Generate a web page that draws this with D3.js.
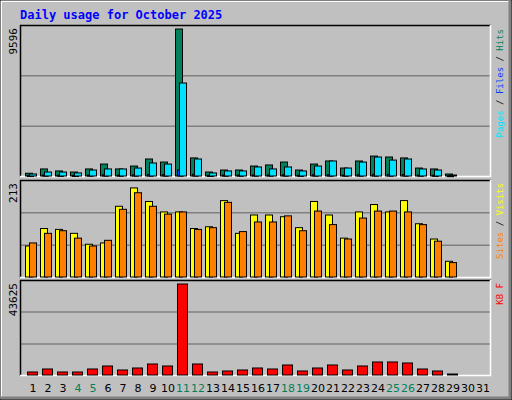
<!DOCTYPE html>
<meta charset="utf-8">
<script src="https://d3js.org/d3.v7.min.js"></script>
<style>
  body { margin: 0; }
  text { font-family: "DejaVu Sans Mono", monospace; }
</style>
<body>
<div id="chart"></div>
<script>
var days = d3.range(1, 32);
var weekends = [4, 5, 11, 12, 18, 19, 25, 26];
var hits   = [180, 460, 330, 260, 460, 780, 460, 650, 1110, 910, 9596, 1180, 260, 390, 390, 650, 720, 910, 390, 780, 980, 520, 980, 1300, 1240, 1180, 520, 460, 130, 0, 0];
var files  = [40, 60, 50, 40, 60, 80, 60, 70, 100, 90, 400, 110, 40, 60, 60, 70, 70, 80, 50, 80, 90, 60, 90, 110, 110, 100, 60, 50, 20, 0, 0];
var pages  = [130, 260, 260, 200, 390, 460, 460, 520, 850, 780, 6070, 1110, 200, 330, 330, 590, 460, 590, 330, 650, 980, 520, 910, 1240, 1040, 1110, 460, 390, 65, 0, 0];
var visits = [71, 111, 109, 100, 75, 78, 162, 204, 173, 149, 149, 111, 115, 175, 100, 142, 142, 138, 113, 173, 142, 89, 149, 166, 149, 175, 122, 87, 36, 0, 0];
var sites  = [78, 100, 106, 89, 71, 84, 155, 193, 162, 144, 149, 109, 113, 171, 104, 126, 126, 140, 106, 151, 120, 87, 135, 151, 151, 149, 120, 82, 33, 0, 0];
var kbytes = [1440, 2880, 1440, 1440, 2880, 4320, 2400, 3360, 5280, 4320, 43625, 5280, 1440, 1920, 2400, 3360, 2880, 4800, 1920, 3360, 4800, 2400, 4320, 6240, 6240, 5760, 2880, 1920, 480, 0, 0];

var W = 512, H = 400;
var svg = d3.select("#chart").append("svg")
  .attr("width", W).attr("height", H);

// outer frame
svg.append("rect").attr("width", W).attr("height", H).attr("fill", "#c0c0c0");
svg.append("path").attr("d", "M1,399V1H511").attr("stroke", "#fff").attr("stroke-width", 2).attr("fill", "none");
svg.append("path").attr("d", "M1,398H510V1").attr("stroke", "#808080").attr("stroke-width", 3).attr("fill", "none");
svg.append("path").attr("d", "M0,0H512V400H0Z").attr("stroke", "#000").attr("fill", "none");

svg.append("text").attr("x", 20).attr("y", 19)
  .attr("fill", "#0000ff").style("font-size", "12px").style("font-weight", "bold")
  .text("Daily usage for October 2025");

var x = d3.scaleBand().domain(days).range([25, 490]);

function panel(top, bottom, max, label) {
  svg.append("rect").attr("x", 20).attr("y", top).attr("width", 471).attr("height", bottom - top)
    .attr("fill", "#c0c0c0");
  var h = bottom - top;
  [1, 2].forEach(function(i) {
    svg.append("line").attr("x1", 21).attr("x2", 490)
      .attr("y1", top + h * i / 3).attr("y2", top + h * i / 3)
      .attr("stroke", "#808080").attr("stroke-width", 1.5);
  });
  svg.append("path").attr("d", "M20.5," + bottom + "V" + (top + 0.5) + "H491")
    .attr("stroke", "#000").attr("stroke-width", 1.5).attr("fill", "none");
  svg.append("path").attr("d", "M20," + (bottom - 0.5) + "H490.5V" + top)
    .attr("stroke", "#fff").attr("stroke-width", 1.5).attr("fill", "none");
  svg.append("text").attr("transform", "translate(17," + (top + 3) + ") rotate(-90)")
    .attr("text-anchor", "end").style("font-size", "11px").attr("fill", "#000")
    .text(label);
  return d3.scaleLinear().domain([0, max]).range([bottom - 1, bottom - 1 - (h - 5)]);
}

function bars(data, y, dx, w, color) {
  svg.append("g").selectAll("rect").data(days.filter(function(d) { return data[d - 1] > 0; }))
    .join("rect")
    .attr("x", function(d) { return x(d) + dx; })
    .attr("y", function(d) { return y(data[d - 1]); })
    .attr("width", w)
    .attr("height", function(d) { return Math.max(1, y(0) - y(data[d - 1])); })
    .attr("fill", color).attr("stroke", "#000").attr("stroke-width", 1);
}

var y1 = panel(25, 177, 9596, "9596");
bars(hits, y1, 0.5, 7, "#00805c");
bars(files, y1, 2.5, 6, "#0040ff");
bars(pages, y1, 4.5, 7, "#00e0ff");

var y2 = panel(180, 278, 213, "213");
bars(visits, y2, 0.5, 7, "#ffff00");
bars(sites, y2, 4.5, 7, "#ff8000");

var y3 = panel(280, 376, 43625, "43625");
bars(kbytes, y3, 2.5, 10, "#ff0000");

// day labels
svg.append("g").selectAll("text").data(days).join("text")
  .attr("x", function(d) { return x(d) + 8; })
  .attr("y", 392)
  .attr("text-anchor", "middle")
  .style("font-size", "11px")
  .style("font-family", "'DejaVu Sans', sans-serif")
  .attr("fill", function(d) { return weekends.indexOf(d) >= 0 ? "#00805c" : "#000"; })
  .text(function(d) { return d; });

// legends on the right, reading upward and ending near the panel top
function legend(yTop, parts) {
  var t = svg.append("text").attr("transform", "translate(503," + yTop + ") rotate(-90)")
    .attr("text-anchor", "end").style("font-size", "9px");
  parts.forEach(function(p) {
    t.append("tspan").attr("fill", p[1]).text(p[0]);
  });
}
legend(29, [["Pages", "#00e0ff"], [" / ", "#000"], ["Files", "#0040ff"], [" / ", "#000"], ["Hits", "#00805c"]]);
legend(183, [["Sites", "#ff8000"], [" / ", "#000"], ["Visits", "#ffff00"]]);
legend(283, [["KB F", "#ff0000"]]);
</script>
</body>
